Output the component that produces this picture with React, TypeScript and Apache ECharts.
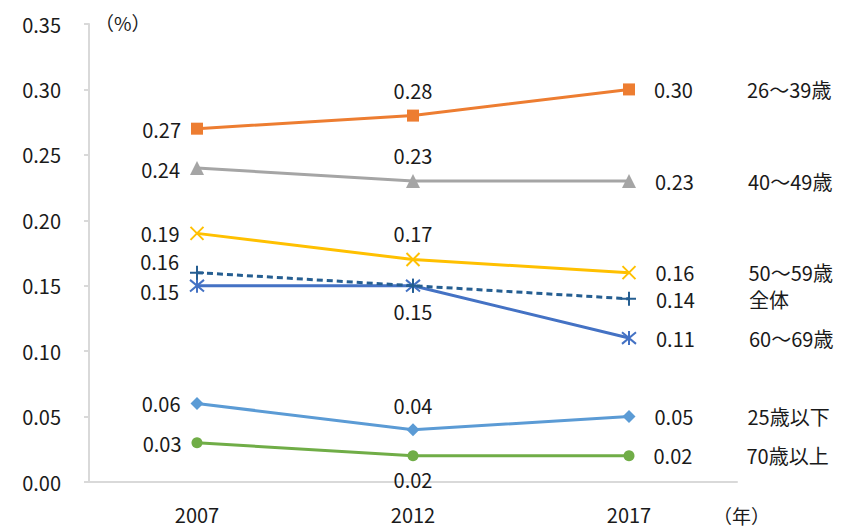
import React, { useEffect, useRef } from "react";
import * as echarts from "echarts";

const years = ["2007", "2012", "2017"];
const seriesNames = ["26～39歳", "40～49歳", "50～59歳", "全体", "60～69歳", "25歳以下", "70歳以上"];
const v26to39 = [0.27, 0.28, 0.3];
const v40to49 = [0.24, 0.23, 0.23];
const v50to59 = [0.19, 0.17, 0.16];
const vAll = [0.16, 0.15, 0.14];
const v60to69 = [0.15, 0.15, 0.11];
const vUnder25 = [0.06, 0.04, 0.05];
const vOver70 = [0.03, 0.02, 0.02];
const yTicks = { min: 0, max: 0.35, interval: 0.05 };

const FONT = "'Noto Sans CJK JP', 'Noto Sans', sans-serif";
const TXT = "#1a1a1a";

const X_PATH = "path://M0,0L10,10M10,0L0,10";
const PLUS_PATH = "path://M5,0L5,10M0,5L10,5";
const AST_PATH = "path://M0,0L10,10M10,0L0,10M5,-1L5,11";

type Pos = { pos: string | null; offset?: number[]; dist?: number };

const styles = [
  { color: "#ED7D31", symbol: "rect", size: 12, stroke: false, dashed: false,
    labels: [{ pos: "left", offset: [0, 1] }, { pos: "top", dist: 9 }, { pos: "right" }] as Pos[] },
  { color: "#A5A5A5", symbol: "triangle", size: 14, stroke: false, dashed: false,
    labels: [{ pos: "left", offset: [0, 2] }, { pos: "top", dist: 9 }, { pos: "right", offset: [0, 0] }] as Pos[] },
  { color: "#FFC000", symbol: X_PATH, size: 13, stroke: true, dashed: false,
    labels: [{ pos: "left" }, { pos: "top", dist: 9 }, { pos: "right", offset: [0, 0] }] as Pos[] },
  { color: "#255E91", symbol: PLUS_PATH, size: 14, stroke: true, dashed: true,
    labels: [{ pos: "left", offset: [0, -11] }, { pos: null }, { pos: "right", offset: [0, 1] }] as Pos[] },
  { color: "#4472C4", symbol: AST_PATH, size: 14, stroke: true, dashed: false,
    labels: [{ pos: "left", offset: [0, 6] }, { pos: "bottom", dist: 8 }, { pos: "right", offset: [0, 0] }] as Pos[] },
  { color: "#5B9BD5", symbol: "diamond", size: 13, stroke: false, dashed: false,
    labels: [{ pos: "left" }, { pos: "top", dist: 8 }, { pos: "right" }] as Pos[] },
  { color: "#70AD47", symbol: "circle", size: 11, stroke: false, dashed: false,
    labels: [{ pos: "left", offset: [0, 1] }, { pos: "bottom", dist: 8 }, { pos: "right" }] as Pos[] },
];

const valueSets = [v26to39, v40to49, v50to59, vAll, v60to69, vUnder25, vOver70];

export default function App() {
  const ref = useRef<HTMLDivElement>(null);
  useEffect(() => {
    if (!ref.current) return;
    const chart = echarts.init(ref.current, null, { renderer: "svg" });
    const series = valueSets.map((vals, si) => {
      const st = styles[si];
      const name = seriesNames[si];
      return {
        name,
        type: "line",
        symbol: st.symbol,
        symbolSize: st.size,
        lineStyle: { color: st.color, width: 3, type: st.dashed ? [6, 4] : "solid" },
        itemStyle: st.stroke
          ? { color: "rgba(0,0,0,0)", borderColor: st.color, borderWidth: 2 }
          : { color: st.color, borderColor: st.color, borderWidth: 0 },
        data: vals.map((v, i) => {
          const lp = st.labels[i];
          const last = i === vals.length - 1;
          if (!lp.pos) return { value: v, label: { show: false } };
          return {
            value: v,
            label: {
              show: true,
              position: lp.pos,
              distance: lp.dist ?? (last ? 19 : 10),
              offset: lp.offset ?? [0, 0],
              color: TXT,
              fontFamily: FONT,
              fontSize: 20,
              lineHeight: 20,
              formatter: last
                ? (p: any) => `{v|${Number(p.value).toFixed(2)}}{n|${name}}`
                : (p: any) => Number(p.value).toFixed(2),
              rich: last
                ? {
                    v: { width: 93, fontSize: 20, lineHeight: 20, fontFamily: FONT, color: TXT },
                    n: { fontSize: 20, lineHeight: 20, fontFamily: FONT, color: TXT },
                  }
                : undefined,
            },
          };
        }),
        z: 10 - si,
      };
    });
    chart.setOption({
      animation: false,
      grid: { left: 89, right: 130, top: 24, bottom: 49, containLabel: false },
      textStyle: { fontFamily: FONT },
      xAxis: {
        type: "category",
        data: years,
        boundaryGap: true,
        name: "（年）",
        nameLocation: "end",
        nameGap: -24,
        nameTextStyle: { color: TXT, fontSize: 19, fontFamily: FONT, align: "left", verticalAlign: "top", padding: [24, 0, 0, 0] },
        axisLine: { show: true, lineStyle: { color: "#D9D9D9", width: 2 } },
        axisTick: { show: false },
        axisLabel: { color: TXT, fontSize: 20, fontFamily: FONT, margin: 22 },
        splitLine: { show: false },
      },
      yAxis: {
        type: "value",
        min: yTicks.min,
        max: yTicks.max,
        interval: yTicks.interval,
        name: "（%）",
        nameLocation: "end",
        nameGap: 2,
        nameTextStyle: { color: TXT, fontSize: 19, fontFamily: FONT, align: "left", verticalAlign: "middle", padding: [0, 0, 0, 6] },
        axisLine: { show: true, lineStyle: { color: "#D9D9D9", width: 2 } },
        axisTick: { show: true, length: 5, lineStyle: { color: "#D9D9D9", width: 2 } },
        axisLabel: { color: TXT, fontSize: 20, fontFamily: FONT, margin: 28, formatter: (v: number) => v.toFixed(2) },
        splitLine: { show: false },
      },
      series,
    });
    return () => chart.dispose();
  }, []);
  return (
    <div
      ref={ref}
      style={{ position: "fixed", left: 0, top: 0, width: 867, height: 531, background: "#fff" }}
    />
  );
}
